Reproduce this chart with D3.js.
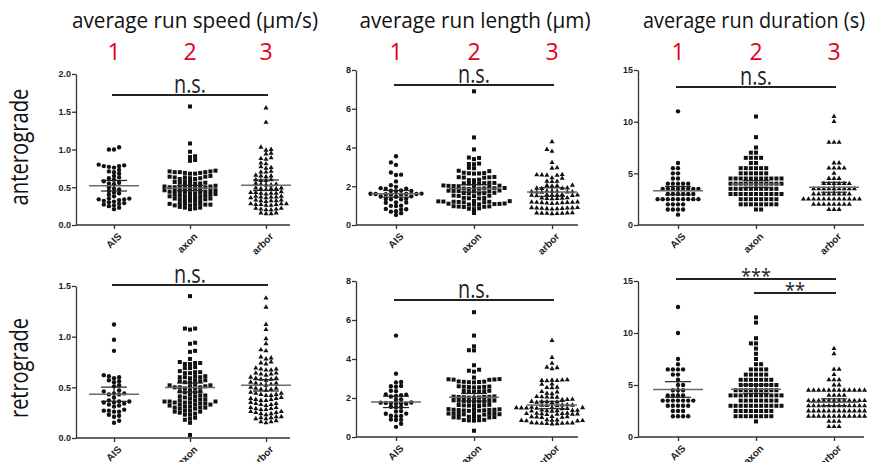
<!DOCTYPE html>
<meta charset="utf-8">
<script src="https://d3js.org/d3.v7.min.js"></script>
<style>
  body { margin: 0; background: #fff; }
  svg text { font-family: "Open Sans", sans-serif; }
</style>
<div id="chart"></div>
<script>
    // categories and titles
    const groups = ["AIS", "axon", "arbor"];
    const groupNumbers = ["1", "2", "3"];
    const metricTitles = ["average run speed (µm/s)", "average run length (µm)", "average run duration (s)"];
    const directions = ["anterograde", "retrograde"];

    // tick values
    const speedTicksAnt = [0, 0.5, 1.0, 1.5, 2.0];
    const speedTicksRet = [0, 0.5, 1.0, 1.5];
    const lengthTicks = [0, 2, 4, 6, 8];
    const durationTicks = [0, 5, 10, 15];

    // average run speed, anterograde
    const speedAntAIS = [1.03, 1.0, 1.0, 0.8, 0.79, 0.78, 0.78, 0.77, 0.76, 0.73, 0.71, 0.7, 0.68, 0.65, 0.63, 0.62, 0.6, 0.58, 0.56, 0.55, 0.54, 0.5, 0.48, 0.47, 0.45, 0.43, 0.42, 0.4, 0.38, 0.35, 0.35, 0.34, 0.34, 0.33, 0.32, 0.31, 0.3, 0.29, 0.28, 0.27, 0.26, 0.25, 0.23, 0.21];
    const speedAntAxon = [1.57, 1.08, 0.97, 0.91, 0.9, 0.86, 0.85, 0.72,
        0.71, 0.71, 0.7, 0.7, 0.7, 0.69, 0.69, 0.68, 0.68,
        0.65, 0.64, 0.64, 0.63, 0.63, 0.62, 0.62, 0.61, 0.61,
        0.58, 0.57, 0.57, 0.56, 0.56, 0.55, 0.55,
        0.53, 0.52, 0.52, 0.51, 0.51, 0.5, 0.5, 0.5, 0.49, 0.49, 0.49, 0.48,
        0.47, 0.46, 0.46, 0.45, 0.45, 0.44, 0.44, 0.44, 0.43, 0.43, 0.42, 0.42,
        0.41, 0.4, 0.4, 0.39, 0.39, 0.38, 0.38, 0.38, 0.37, 0.37,
        0.35, 0.35, 0.34, 0.34, 0.33, 0.33, 0.32, 0.32,
        0.29, 0.28, 0.28, 0.28, 0.27, 0.27, 0.27, 0.26, 0.26,
        0.24, 0.23, 0.23, 0.22, 0.21];
    const speedAntArbor = [1.55, 1.36, 1.03, 1.0, 0.99, 0.95, 0.94, 0.89, 0.88, 0.87, 0.82, 0.81, 0.77, 0.76, 0.75,
        0.71, 0.7, 0.7, 0.66, 0.65, 0.65, 0.64, 0.6, 0.6, 0.59, 0.59, 0.55, 0.54, 0.54, 0.53, 0.53,
        0.49, 0.49, 0.48, 0.48, 0.48, 0.47, 0.44, 0.43, 0.43, 0.42, 0.42, 0.42, 0.41,
        0.38, 0.38, 0.37, 0.37, 0.37, 0.36, 0.36, 0.33, 0.33, 0.32, 0.32, 0.32, 0.31,
        0.28, 0.28, 0.28, 0.27, 0.27, 0.27, 0.26, 0.26, 0.22, 0.22, 0.21, 0.21, 0.2, 0.2, 0.16, 0.16, 0.15, 0.15];

    // average run length, anterograde
    const lengthAntAIS = [3.55, 3.23, 3.1, 2.71, 2.6, 2.58, 2.25, 2.05, 1.97, 1.9, 1.88, 1.87, 1.79, 1.77, 1.76,
        1.75, 1.62, 1.61, 1.6, 1.6, 1.6, 1.59, 1.58, 1.58, 1.48, 1.47, 1.46, 1.35, 1.34, 1.33,
        1.32, 1.17, 1.16, 1.15, 1.0, 0.99, 0.98, 0.83, 0.81, 0.8, 0.71, 0.69, 0.61, 0.52];
    const lengthAntAxon = [6.9, 4.52, 3.9, 3.48, 3.46, 3.4, 3.17, 3.15, 3.14, 2.95, 2.93, 2.8, 2.78,
        2.7, 2.68, 2.67, 2.66, 2.65, 2.48, 2.47, 2.46, 2.45, 2.44, 2.34, 2.32, 2.31,
        2.18, 2.17, 2.16, 2.15, 2.14, 2.13, 2.12, 2.04, 2.03, 2.02, 2.01, 2.0, 1.99,
        1.92, 1.91, 1.9, 1.89, 1.88, 1.87, 1.86, 1.78, 1.77, 1.76, 1.75, 1.74, 1.73,
        1.66, 1.65, 1.64, 1.63, 1.62, 1.52, 1.51, 1.5, 1.49, 1.4, 1.39, 1.38, 1.37,
        1.24, 1.23, 1.22, 1.21, 1.2, 1.2, 1.19, 1.18, 1.17, 1.11, 1.1, 1.09, 1.08, 1.07, 1.06, 1.05,
        0.97, 0.96, 0.95, 0.94, 0.93, 0.86, 0.84, 0.82, 0.62];
    const lengthAntArbor = [4.3, 3.9, 3.8, 3.22, 2.95, 2.93, 2.6, 2.59, 2.58, 2.57, 2.56, 2.43, 2.41,
        2.26, 2.25, 2.24, 2.05, 2.04, 2.02, 2.01, 1.91, 1.9, 1.89, 1.88,
        1.75, 1.74, 1.73, 1.72, 1.71, 1.7, 1.7, 1.69, 1.57, 1.56, 1.55, 1.55, 1.54, 1.53, 1.52, 1.51,
        1.4, 1.39, 1.38, 1.37, 1.36, 1.35, 1.19, 1.18, 1.17, 1.17, 1.16, 1.15, 1.14, 1.13, 1.12, 1.11,
        0.9, 0.89, 0.88, 0.88, 0.87, 0.86, 0.85, 0.84, 0.83, 0.82, 0.63, 0.62, 0.62, 0.61, 0.6, 0.6, 0.59, 0.58];

    // average run duration, anterograde
    const durationAntAIS = [11, 6, 5.5, 5.5, 5, 5, 4.5, 4.5, 4, 4, 4, 4, 4,
        3.5, 3.5, 3.5, 3.5, 3.5, 3.5, 3.5, 3.5, 3, 3, 3, 3, 3, 3,
        2.5, 2.5, 2.5, 2.5, 2.5, 2.5, 2.5, 2.5, 2.5, 2, 2, 2, 2, 1.5, 1.5, 1.5, 1.5, 1];
    const durationAntAxon = [10.5, 8.5, 7.5, 7, 7, 6.5, 6.5, 6.5, 6.5, 6, 6,
        5.5, 5.5, 5.5, 5.5, 5.5, 5.5, 5, 5, 5, 5, 5, 5,
        4.5, 4.5, 4.5, 4.5, 4.5, 4.5, 4.5, 4.5, 4.5, 4.5, 4.5,
        4, 4, 4, 4, 4, 4, 4, 4, 4, 4, 4,
        3.5, 3.5, 3.5, 3.5, 3.5, 3.5, 3.5, 3.5, 3.5, 3.5,
        3, 3, 3, 3, 3, 3, 3, 3, 3, 3, 3,
        2.5, 2.5, 2.5, 2.5, 2.5, 2.5, 2.5, 2.5, 2, 2, 2, 2, 2, 2, 2, 2, 1.5, 1.5];
    const durationAntArbor = [10.5, 10, 8, 8, 8, 6, 6, 5.5, 5.5, 5.5, 5.5, 5, 4.5, 4.5, 4.5,
        4, 4, 4, 4, 4, 4, 3.5, 3.5, 3.5, 3.5, 3.5, 3.5, 3.5, 3.5, 3.5,
        3, 3, 3, 3, 3, 3, 3, 3, 2.5, 2.5, 2.5, 2.5, 2.5, 2.5, 2.5, 2.5, 2.5, 2.5, 2.5, 2.5,
        2, 2, 2, 2, 2, 2, 2, 2, 1.5, 1.5, 1.5];

    // average run speed, retrograde
    const speedRetAIS = [1.12, 0.97, 0.86, 0.62, 0.61, 0.6, 0.59, 0.57, 0.56, 0.55, 0.52, 0.51, 0.47, 0.46,
        0.44, 0.44, 0.43, 0.43, 0.4, 0.37, 0.36, 0.36, 0.35, 0.35, 0.34, 0.33, 0.32, 0.31,
        0.28, 0.27, 0.27, 0.26, 0.26, 0.23, 0.22, 0.21, 0.17, 0.15];
    const speedRetAxon = [1.4, 1.08, 1.08, 1.07, 0.94, 0.93, 0.86, 0.85, 0.78,
        0.75, 0.74, 0.74, 0.73, 0.73, 0.7, 0.69, 0.69, 0.66, 0.65, 0.65, 0.64, 0.64,
        0.61, 0.61, 0.6, 0.6, 0.6, 0.59, 0.57, 0.57, 0.56, 0.56, 0.55, 0.55,
        0.53, 0.52, 0.52, 0.51, 0.51, 0.5, 0.5, 0.5, 0.49, 0.49, 0.47, 0.46, 0.46, 0.45, 0.45,
        0.43, 0.42, 0.42, 0.41, 0.41, 0.4, 0.39, 0.38, 0.38, 0.37, 0.37, 0.36, 0.36, 0.36,
        0.35, 0.35, 0.35, 0.34, 0.34, 0.33, 0.33, 0.33, 0.32, 0.31, 0.31, 0.3, 0.3, 0.3, 0.29, 0.29,
        0.27, 0.27, 0.26, 0.26, 0.25, 0.24, 0.23, 0.23, 0.2, 0.19, 0.18, 0.15, 0.03];
    const speedRetArbor = [1.38, 1.29, 1.12, 1.07, 0.98, 0.93, 0.87, 0.86,
        0.8, 0.79, 0.78, 0.75, 0.74, 0.73, 0.69, 0.68, 0.68, 0.67, 0.67, 0.64, 0.64, 0.63, 0.63, 0.62,
        0.6, 0.59, 0.59, 0.58, 0.58, 0.57, 0.55, 0.54, 0.54, 0.53, 0.53, 0.52,
        0.5, 0.49, 0.49, 0.48, 0.48, 0.47, 0.45, 0.44, 0.44, 0.43, 0.43, 0.42, 0.42,
        0.4, 0.39, 0.39, 0.38, 0.38, 0.37, 0.37, 0.35, 0.34, 0.34, 0.33, 0.33, 0.32,
        0.3, 0.3, 0.29, 0.29, 0.28, 0.28, 0.26, 0.26, 0.25, 0.25, 0.24, 0.24, 0.23,
        0.21, 0.21, 0.2, 0.2, 0.19, 0.19, 0.17, 0.16, 0.16, 0.15];

    // average run length, retrograde
    const lengthRetAIS = [5.2, 3.25, 2.82, 2.8, 2.62, 2.6, 2.58, 2.37, 2.35, 2.18, 2.17, 2.15, 2.1, 2.08,
        1.93, 1.91, 1.77, 1.76, 1.75, 1.74, 1.73, 1.72, 1.71, 1.55, 1.54, 1.53, 1.33, 1.31,
        1.2, 1.19, 1.09, 1.08, 1.07, 0.9, 0.88, 0.87, 0.68, 0.52];
    const lengthRetAxon = [6.4, 5.2, 4.65, 4.45, 4.44, 3.68, 3.45, 3.4, 3.35, 3.05,
        2.97, 2.96, 2.95, 2.94, 2.93, 2.85, 2.84, 2.83, 2.82, 2.81, 2.8,
        2.6, 2.59, 2.58, 2.57, 2.56, 2.55, 2.54, 2.37, 2.36, 2.35, 2.34, 2.33, 2.32,
        2.08, 2.07, 2.06, 2.05, 2.05, 2.04, 2.03, 2.02, 2.01,
        1.88, 1.87, 1.86, 1.85, 1.85, 1.84, 1.83, 1.82, 1.81,
        1.65, 1.64, 1.63, 1.62, 1.61, 1.6, 1.59,
        1.43, 1.42, 1.41, 1.4, 1.4, 1.39, 1.38, 1.37, 1.36, 1.35, 1.34,
        1.22, 1.21, 1.2, 1.2, 1.19, 1.18, 1.17, 1.16, 1.15,
        1.05, 1.04, 1.03, 1.02, 1.01, 1.0, 0.99, 0.88, 0.87, 0.86, 0.85, 0.84, 0.32];
    const lengthRetArbor = [4.95, 4.08, 3.78, 3.58, 3.55, 3.5,
        2.93, 2.92, 2.91, 2.9, 2.89, 2.88, 2.72, 2.7, 2.55, 2.53, 2.52, 2.33, 2.31, 2.24, 2.22,
        2.07, 2.06, 2.05, 2.04, 2.03, 1.93, 1.92, 1.91, 1.82, 1.81, 1.8, 1.79, 1.78, 1.77,
        1.65, 1.64, 1.63, 1.62, 1.61, 1.6, 1.52, 1.51, 1.5, 1.5, 1.49, 1.48, 1.47, 1.46, 1.45,
        1.38, 1.37, 1.36, 1.35, 1.34, 1.33, 1.32, 1.22, 1.21, 1.2, 1.2, 1.19, 1.18, 1.17, 1.16, 1.15,
        1.05, 1.04, 1.03, 1.02, 1.01, 1.0, 0.88, 0.87, 0.86, 0.85, 0.84, 0.83, 0.82,
        0.73, 0.72, 0.72, 0.71, 0.7, 0.7, 0.69, 0.68, 0.67];

    // average run duration, retrograde
    const durationRetAIS = [12.5, 10, 7.5, 7, 6.5, 6.5, 6.5, 6.5, 6, 6, 5.5, 5, 5, 4.5, 4.5, 4.5,
        4, 4, 4, 4, 3.5, 3.5, 3.5, 3.5, 3.5, 3.5, 3.5, 3, 3, 3, 3, 3, 2.5, 2.5, 2.5, 2, 2, 2, 2];
    const durationRetAxon = [11.5, 11, 9.5, 9, 9, 8.5, 8, 7.5, 7, 7, 6.5, 6.5, 6.5, 6.5, 6, 6, 6, 6, 6,
        5.5, 5.5, 5.5, 5.5, 5.5, 5.5, 5.5, 5, 5, 5, 5, 5, 5, 5, 5,
        4.5, 4.5, 4.5, 4.5, 4.5, 4.5, 4.5, 4.5, 4.5, 4, 4, 4, 4, 4, 4, 4, 4, 4, 4, 4,
        3.5, 3.5, 3.5, 3.5, 3.5, 3.5, 3.5, 3.5, 3, 3, 3, 3, 3, 3, 3, 3, 3, 3, 3,
        2.5, 2.5, 2.5, 2.5, 2.5, 2.5, 2.5, 2.5, 2, 2, 2, 2, 2, 2, 2, 2, 1.5];
    const durationRetArbor = [8.5, 8, 6.5, 6.5, 6, 5.5, 5.5, 5.5, 5, 5,
        4.5, 4.5, 4.5, 4.5, 4.5, 4.5, 4.5, 4.5, 4.5, 4.5, 4.5, 4.5, 4, 4, 4, 4,
        3.5, 3.5, 3.5, 3.5, 3.5, 3.5, 3.5, 3.5, 3.5, 3.5, 3.5, 3.5,
        3, 3, 3, 3, 3, 3, 3, 3, 3, 3, 3, 3, 2.5, 2.5, 2.5, 2.5, 2.5, 2.5, 2.5, 2.5, 2.5, 2.5, 2.5, 2.5,
        2, 2, 2, 2, 2, 2, 2, 2, 2, 2, 2, 2, 1.5, 1.5, 1.5, 1, 1, 1];

    // mean and SEM bars (AIS, axon, arbor)
    const speedAntMean = [0.52, 0.49, 0.527], speedAntSem = [0.07, 0.035, 0.07];
    const lengthAntMean = [1.61, 1.89, 1.7], lengthAntSem = [0.17, 0.19, 0.22];
    const durationAntMean = [3.32, 3.97, 3.65], durationAntSem = [0.4, 0.32, 0.48];
    const speedRetMean = [0.432, 0.498, 0.52], speedRetSem = [0.07, 0.045, 0.056];
    const lengthRetMean = [1.8, 2.04, 1.64], lengthRetSem = [0.29, 0.19, 0.19];
    const durationRetMean = [4.57, 4.6, 3.34], durationRetSem = [0.75, 0.4, 0.33];

    // layout
    const W = 869, H = 462;
    const axisX = [76, 356, 638];
    const catRange = [[114, 266], [396, 552], [678, 834]];
    const axisEnd = [290, 578, 864];
    const baseY = [[225, 225, 225], [438, 437, 437]];
    const topY = [[74, 70, 70], [286, 281, 281]];
    const titleX = [195, 475, 754], titleLen = [246, 231, 222];

    const panels = [
        { r: 0, c: 0, sets: [speedAntAIS, speedAntAxon, speedAntArbor], mean: speedAntMean, sem: speedAntSem, max: 2, ticks: speedTicksAnt, fmt: ".1f", sig: [{ a: 0, b: 2, label: "n.s.", y: 95 }] },
        { r: 0, c: 1, sets: [lengthAntAIS, lengthAntAxon, lengthAntArbor], mean: lengthAntMean, sem: lengthAntSem, max: 8, ticks: lengthTicks, fmt: "d", sig: [{ a: 0, b: 2, label: "n.s.", y: 85 }] },
        { r: 0, c: 2, sets: [durationAntAIS, durationAntAxon, durationAntArbor], mean: durationAntMean, sem: durationAntSem, max: 15, ticks: durationTicks, fmt: "d", sig: [{ a: 0, b: 2, label: "n.s.", y: 87 }] },
        { r: 1, c: 0, sets: [speedRetAIS, speedRetAxon, speedRetArbor], mean: speedRetMean, sem: speedRetSem, max: 1.5, ticks: speedTicksRet, fmt: ".1f", sig: [{ a: 0, b: 2, label: "n.s.", y: 285 }] },
        { r: 1, c: 1, sets: [lengthRetAIS, lengthRetAxon, lengthRetArbor], mean: lengthRetMean, sem: lengthRetSem, max: 8, ticks: lengthTicks, fmt: "d", sig: [{ a: 0, b: 2, label: "n.s.", y: 300 }] },
        { r: 1, c: 2, sets: [durationRetAIS, durationRetAxon, durationRetArbor], mean: durationRetMean, sem: durationRetSem, max: 15, ticks: durationTicks, fmt: "d", sig: [{ a: 0, b: 2, label: "***", y: 279 }, { a: 1, b: 2, label: "**", y: 293 }] }
    ];

    const svg = d3.select("#chart").append("svg")
        .attr("width", W)
        .attr("height", H);

    // titles and red group numbers
    metricTitles.forEach(function (t, c) {
        svg.append("text")
            .attr("x", titleX[c]).attr("y", 28)
            .attr("text-anchor", "middle")
            .attr("font-size", 22)
            .attr("textLength", titleLen[c])
            .attr("lengthAdjust", "spacingAndGlyphs")
            .attr("fill", "#111")
            .text(t);
        const x = d3.scalePoint().domain(groups).range(catRange[c]);
        svg.selectAll(null).data(groupNumbers).join("text")
            .attr("x", function (d, i) { return x(groups[i]); })
            .attr("y", 60)
            .attr("text-anchor", "middle")
            .attr("font-size", 23)
            .attr("fill", "#e2001a")
            .text(function (d) { return d; });
    });

    // row labels
    const rowCenter = [147, 368], rowLen = [117, 100];
    directions.forEach(function (d, r) {
        svg.append("text")
            .attr("transform", `translate(28, ${rowCenter[r]}) rotate(-90)`)
            .attr("text-anchor", "middle")
            .attr("font-size", 25)
            .attr("textLength", rowLen[r])
            .attr("lengthAdjust", "spacingAndGlyphs")
            .attr("fill", "#111")
            .text(d);
    });

    const symbols = [
        d3.symbol().type(d3.symbolCircle).size(15),
        d3.symbol().type(d3.symbolSquare).size(16),
        d3.symbol().type(d3.symbolTriangle).size(11)
    ];

    // Prism-like scatter: sort the values, push each point sideways until it
    // no longer overlaps an already placed point
    function swarm(values, y, h) {
        const placed = [];
        values.slice().sort(function (a, b) { return a - b; }).forEach(function (v, i) {
            const py = y(v);
            const near = placed.filter(function (p) { return Math.abs(p.y - py) < h; });
            const sign = i % 2 ? 1 : -1;
            let off = 0;
            for (let s = 0; s < 80; s++) {
                const o = (s % 2 ? 1 : -1) * Math.ceil(s / 2) * 0.5 * sign;
                if (near.every(function (p) { return Math.abs(p.off - o) >= 0.95; })) { off = o; break; }
            }
            placed.push({ v: v, y: py, off: off });
        });
        return placed;
    }

    const dx = 5.1;

    panels.forEach(function (p) {
        const g = svg.append("g");
        const y = d3.scaleLinear().domain([0, p.max]).range([baseY[p.r][p.c], topY[p.r][p.c]]);
        const x = d3.scalePoint().domain(groups).range(catRange[p.c]);

        // y axis
        const ya = g.append("g")
            .attr("transform", `translate(${axisX[p.c]},0)`)
            .call(d3.axisLeft(y).tickValues(p.ticks).tickFormat(d3.format(p.fmt)).tickSize(4).tickSizeOuter(0).tickPadding(1));
        ya.selectAll("text")
            .style("font-family", "'Liberation Sans', Arial, sans-serif")
            .attr("font-weight", "bold").attr("font-size", 9).attr("fill", "#222");
        ya.selectAll("line,path").attr("stroke", "#333").attr("stroke-width", 1.3);

        // x axis
        const xa = g.append("g")
            .attr("transform", `translate(0,${y(0)})`)
            .call(d3.axisBottom(x).tickSize(4).tickFormat(""));
        xa.select(".domain").remove();
        xa.selectAll("line").attr("stroke", "#333").attr("stroke-width", 1.3);
        g.append("line")
            .attr("x1", axisX[p.c]).attr("x2", axisEnd[p.c])
            .attr("y1", y(0)).attr("y2", y(0))
            .attr("stroke", "#333").attr("stroke-width", 1.3);
        g.selectAll(".xlab").data(groups).join("text")
            .attr("transform", function (d) { return `translate(${x(d) + 3},${y(0) + 7}) rotate(-45)`; })
            .attr("text-anchor", "end")
            .attr("dominant-baseline", "hanging")
            .style("font-family", "'Liberation Sans', Arial, sans-serif")
            .attr("font-weight", "bold").attr("font-size", 10).attr("fill", "#222")
            .text(function (d) { return d; });

        // points, then mean and SEM on top
        p.sets.forEach(function (vals, i) {
            const cx = x(groups[i]);
            g.append("g").selectAll("path").data(swarm(vals, y, 3.6)).join("path")
                .attr("transform", function (d) { return `translate(${cx + d.off * dx},${d.y})`; })
                .attr("d", symbols[i])
                .attr("fill", "#111");

            const m = p.mean[i], e = p.sem[i];
            g.append("line")
                .attr("x1", cx - 25).attr("x2", cx + 25)
                .attr("y1", y(m)).attr("y2", y(m))
                .attr("stroke", "#6a6a6a").attr("stroke-width", 1.5);
            g.append("line")
                .attr("x1", cx).attr("x2", cx)
                .attr("y1", y(m - e)).attr("y2", y(m + e))
                .attr("stroke", "#222").attr("stroke-width", 1.2);
            [m - e, m + e].forEach(function (v) {
                g.append("line")
                    .attr("x1", cx - 13).attr("x2", cx + 13)
                    .attr("y1", y(v)).attr("y2", y(v))
                    .attr("stroke", "#222").attr("stroke-width", 1.2);
            });
        });

        // significance bars
        p.sig.forEach(function (s) {
            const x1 = x(groups[s.a]) - 2, x2 = x(groups[s.b]) + 2;
            g.append("line")
                .attr("x1", x1).attr("x2", x2)
                .attr("y1", s.y).attr("y2", s.y)
                .attr("stroke", "#222").attr("stroke-width", 2);
            const isNs = s.label === "n.s.";
            g.append("text")
                .attr("x", (x1 + x2) / 2)
                .attr("y", isNs ? s.y - 2.5 : s.y + 4)
                .attr("text-anchor", "middle")
                .attr("font-size", isNs ? 25 : 20)
                .attr("textLength", isNs ? 32 : s.label.length * 10)
                .attr("lengthAdjust", "spacingAndGlyphs")
                .attr("fill", "#222")
                .text(s.label);
        });
    });
</script>
